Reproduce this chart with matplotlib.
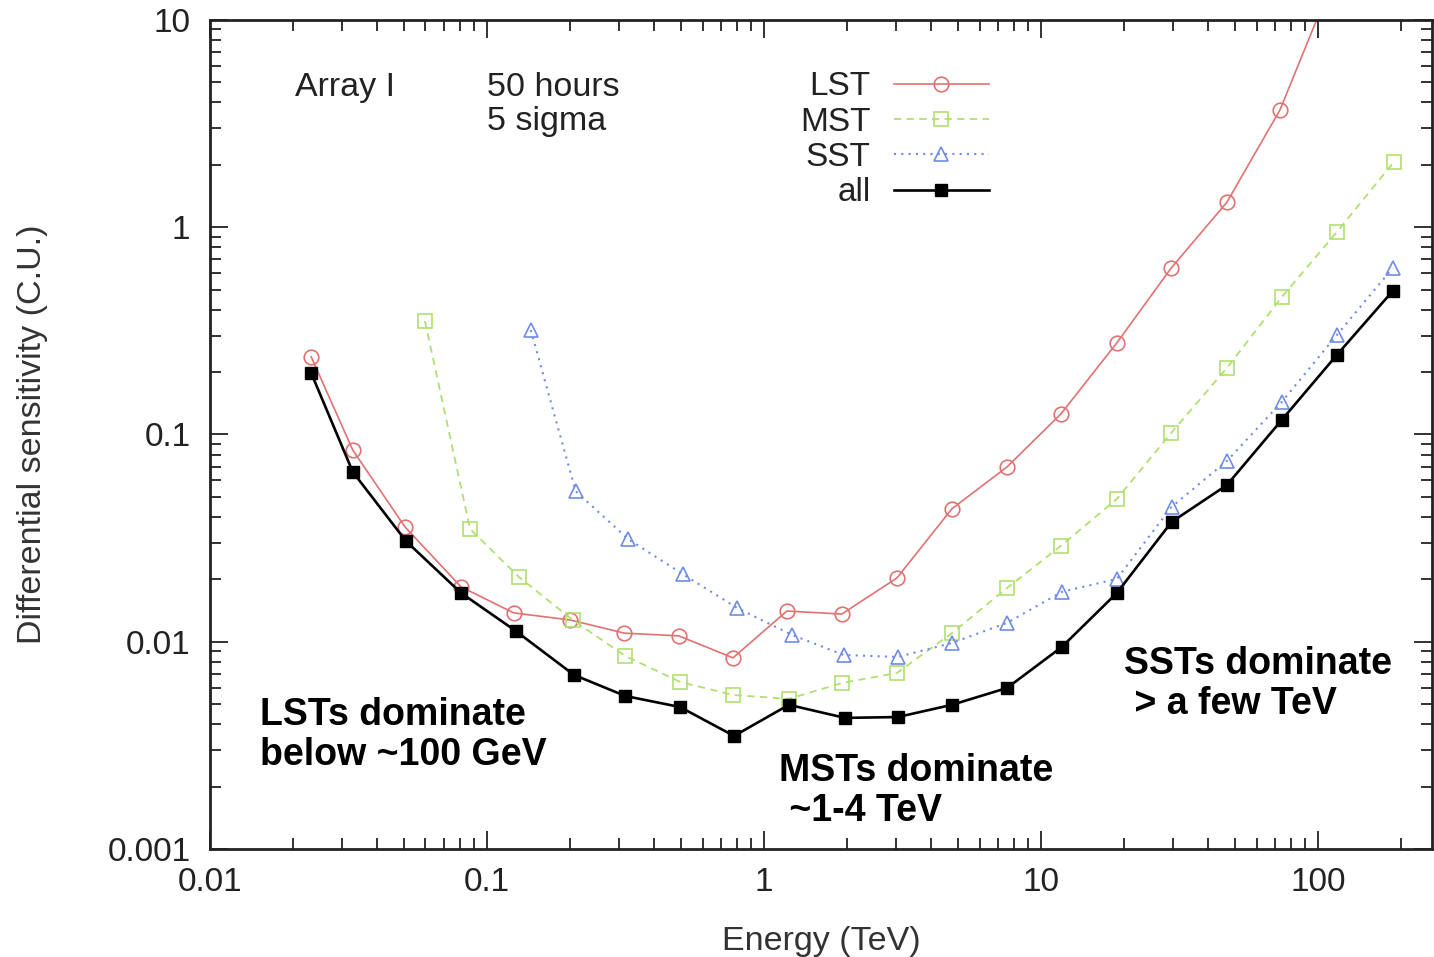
"""Differential sensitivity of the LST / MST / SST sub-arrays versus energy."""

import matplotlib

matplotlib.use("Agg")
import matplotlib.pyplot as plt
from matplotlib.ticker import LogLocator, NullFormatter, FixedLocator, FixedFormatter

# energy in TeV, sensitivity in Crab units
LST_ENERGY = [0.0232, 0.0328, 0.0506, 0.0806, 0.125, 0.200, 0.313, 0.493, 0.773, 1.21,
              1.91, 3.02, 4.77, 7.54, 11.8, 18.8, 29.5, 46.9, 72.9, 116.0]
LST_SENS = [0.237, 0.084, 0.0358, 0.0184, 0.01377, 0.01273, 0.0110, 0.01067, 0.00836, 0.01406,
            0.0136, 0.0203, 0.0438, 0.0697, 0.1256, 0.277, 0.635, 1.32, 3.68, 16.9]

MST_ENERGY = [0.0597, 0.0869, 0.1306, 0.204, 0.316, 0.498, 0.773, 1.23, 1.91, 3.02,
              4.77, 7.54, 11.8, 18.8, 29.5, 46.9, 74.0, 117.0, 188.0]
MST_SENS = [0.353, 0.035, 0.0205, 0.01273, 0.00853, 0.0064, 0.00553, 0.0053, 0.00632, 0.00707,
            0.0110, 0.01815, 0.029, 0.0489, 0.1016, 0.2094, 0.46, 0.948, 2.07]

SST_ENERGY = [0.144, 0.209, 0.323, 0.509, 0.80, 1.26, 1.94, 3.04, 4.77, 7.54,
              11.9, 18.8, 29.6, 46.9, 74.0, 117.0, 186.0]
SST_SENS = [0.319, 0.0533, 0.0313, 0.0212, 0.01455, 0.0108, 0.00863, 0.00844, 0.00986, 0.01233,
            0.0174, 0.0201, 0.0447, 0.0745, 0.1435, 0.302, 0.635]

ALL_ENERGY = [0.0232, 0.0328, 0.051, 0.0806, 0.127, 0.206, 0.316, 0.498, 0.78, 1.23,
              1.96, 3.04, 4.77, 7.54, 11.9, 18.8, 29.6, 46.9, 74.0, 117.0, 186.0]
ALL_SENS = [0.198, 0.0659, 0.0306, 0.0172, 0.01127, 0.00692, 0.00547, 0.00484, 0.00351, 0.00496,
            0.00429, 0.00433, 0.00496, 0.00598, 0.00944, 0.0172, 0.0378, 0.0570, 0.1175, 0.242, 0.492]

X_TICKS = [0.01, 0.1, 1, 10, 100]
X_TICK_LABELS = ["0.01", "0.1", "1", "10", "100"]
Y_TICKS = [0.001, 0.01, 0.1, 1, 10]
Y_TICK_LABELS = ["0.001", "0.01", "0.1", "1", "10"]

FONT = ["Liberation Sans", "DejaVu Sans"]
LST_COLOR = "#e07272"
MST_COLOR = "#b0e070"
SST_COLOR = "#6f8ce6"
TEXT_COLOR = "#222222"


def main() -> None:
    plt.rcParams["font.family"] = FONT
    fig = plt.figure(figsize=(14.34, 9.57), dpi=100)
    ax = fig.add_axes([0.1464, 0.1129, 0.8522, 0.8662])

    ax.plot(LST_ENERGY, LST_SENS, color=LST_COLOR, lw=1.2, marker="o", ms=10.5,
            mfc="none", mec=LST_COLOR, mew=1.2, label="LST")
    ax.plot(MST_ENERGY, MST_SENS, color=MST_COLOR, lw=1.3, ls=(0, (4, 3)), marker="s", ms=10,
            mfc="none", mec=MST_COLOR, mew=1.2, label="MST")
    ax.plot(SST_ENERGY, SST_SENS, color=SST_COLOR, lw=1.5, ls=(0, (1, 2.5)), marker="^", ms=10,
            mfc="none", mec=SST_COLOR, mew=1.2, label="SST")
    ax.plot(ALL_ENERGY, ALL_SENS, color="black", lw=1.9, marker="s", ms=8.5,
            mfc="black", mec="black", label="all")

    ax.set_xscale("log")
    ax.set_yscale("log")
    ax.set_xlim(0.01, 258)
    ax.set_ylim(0.001, 10)

    ax.xaxis.set_major_locator(FixedLocator(X_TICKS))
    ax.xaxis.set_major_formatter(FixedFormatter(X_TICK_LABELS))
    ax.yaxis.set_major_locator(FixedLocator(Y_TICKS))
    ax.yaxis.set_major_formatter(FixedFormatter(Y_TICK_LABELS))
    for axis in (ax.xaxis, ax.yaxis):
        axis.set_minor_locator(LogLocator(base=10, subs=range(2, 10), numticks=20))
        axis.set_minor_formatter(NullFormatter())

    ax.tick_params(which="both", direction="in", top=True, right=True, width=1.3, color=TEXT_COLOR)
    ax.tick_params(which="major", length=13, labelsize=24, labelcolor=TEXT_COLOR)
    ax.tick_params(which="minor", length=8)
    ax.tick_params(axis="x", which="major", pad=13)
    ax.tick_params(axis="y", which="major", pad=14)
    for spine in ax.spines.values():
        spine.set_linewidth(2.0)
        spine.set_color(TEXT_COLOR)

    ax.set_xlabel("Energy (TeV)", fontsize=24.5, color="#333333", labelpad=20)
    ax.set_ylabel("Differential sensitivity (C.U.)", fontsize=24.5, color="#333333", labelpad=43)

    leg = ax.legend(loc="upper left", bbox_to_anchor=(0.483, 0.938), frameon=False,
                    fontsize=24, markerfirst=False, handlelength=2.85, handletextpad=0.69,
                    labelspacing=0.13, borderpad=0, borderaxespad=0)
    for text in leg.get_texts():
        text.set_ha("right")
        text.set_color(TEXT_COLOR)

    ax.text(0.0695, 0.919, "Array I", transform=ax.transAxes, fontsize=24.5,
            color=TEXT_COLOR, va="center")
    ax.text(0.2267, 0.919, "50 hours", transform=ax.transAxes, fontsize=24.5,
            color=TEXT_COLOR, va="center")
    ax.text(0.2267, 0.877, "5 sigma", transform=ax.transAxes, fontsize=24.5,
            color=TEXT_COLOR, va="center")

    bold = dict(fontsize=27, fontweight="bold", color="black", linespacing=1.15,
                transform=ax.transAxes, va="top")
    ax.text(0.041, 0.183, "LSTs dominate\nbelow ~100 GeV", **bold)
    ax.text(0.466, 0.116, "MSTs dominate\n ~1-4 TeV", **bold)
    ax.text(0.748, 0.245, "SSTs dominate\n > a few TeV", **bold)

    fig.savefig("out.png", dpi=100)
    plt.close(fig)


if __name__ == "__main__":
    main()
